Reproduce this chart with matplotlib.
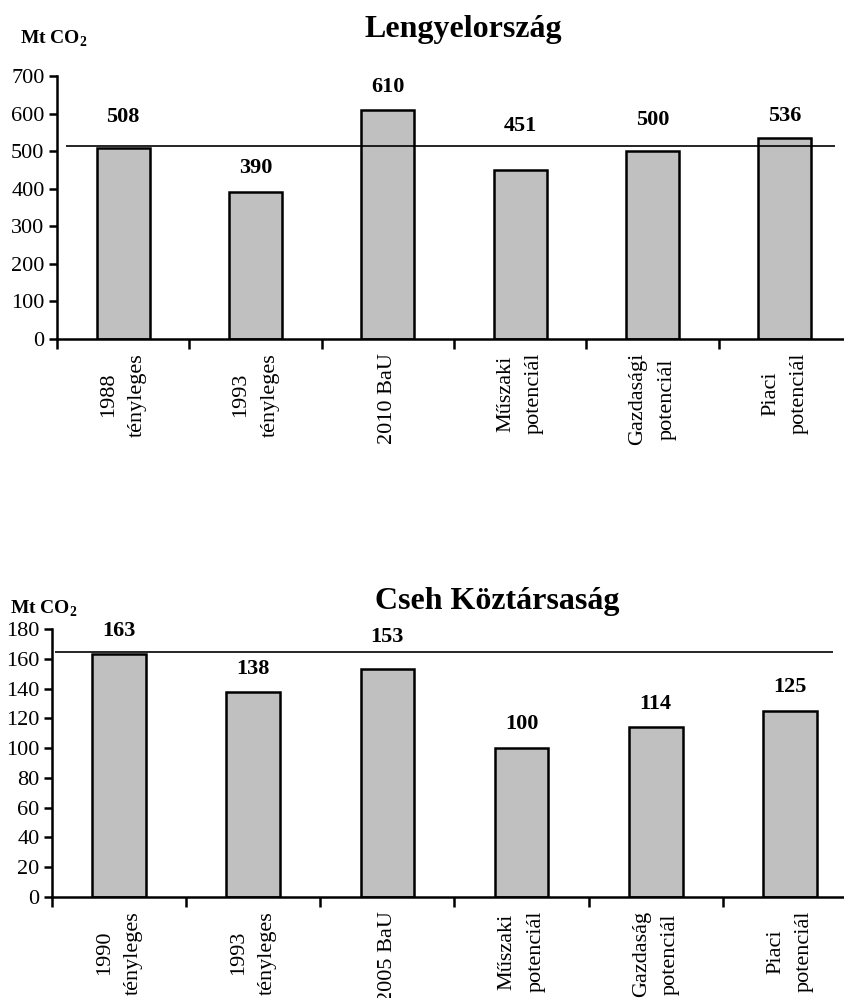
import matplotlib
matplotlib.use("Agg")
import matplotlib.pyplot as plt

plt.rcParams['font.family'] = ['Liberation Serif', 'DejaVu Serif']
plt.rcParams['mathtext.fontset'] = 'custom'
plt.rcParams['mathtext.rm'] = 'Liberation Serif'
plt.rcParams['mathtext.bf'] = 'Liberation Serif:bold'

# Lengyelország
pl_labels = ["1988\ntényleges", "1993\ntényleges", "2010 BaU",
             "Műszaki\npotenciál", "Gazdasági\npotenciál", "Piaci\npotenciál"]
pl_values = [508, 390, 610, 451, 500, 536]
pl_target = 514
pl_yticks = [0, 100, 200, 300, 400, 500, 600, 700]

# Cseh Köztársaság
cz_labels = ["1990\ntényleges", "1993\ntényleges", "2005 BaU",
             "Műszaki\npotenciál", "Gazdaság\npotenciál", "Piaci\npotenciál"]
cz_values = [163, 138, 153, 100, 114, 125]
cz_target = 164.5
cz_yticks = [0, 20, 40, 60, 80, 100, 120, 140, 160, 180]

# gap (px) between bar top and centre of the value label
pl_gaps = [31, 24, 23, 44, 31, 22]
cz_gaps = [23, 23, 32, 24, 23, 24]

W, H = 845, 998
fig = plt.figure(figsize=(W / 100, H / 100), dpi=100)


def draw_panel(rect, title, title_xy, unit_xy, labels, values, target,
               yticks, gaps, line_span):
    ax = fig.add_axes(rect)
    n = len(values)
    xs = [i + 0.5 for i in range(n)]
    ax.bar(xs, values, width=0.4, color="#c0c0c0", edgecolor="black",
           linewidth=1.8, zorder=2)
    ax.hlines(target, line_span[0], line_span[1], colors="black",
              linewidth=1.2, transform=ax.get_yaxis_transform(), zorder=3)
    for x, v, g in zip(xs, values, gaps):
        ax.annotate(str(v), (x, v), xytext=(0, g * 0.72),
                    textcoords="offset points", ha="center", va="center",
                    fontsize=16, fontweight="bold")

    ax.set_xlim(0, n)
    ax.set_ylim(yticks[0], yticks[-1])
    ax.set_yticks(yticks)
    ax.set_xticks(range(n))
    ax.set_xticklabels([])
    ax.tick_params(axis="y", direction="out", length=6, width=1.8,
                   labelsize=16, pad=3)
    ax.tick_params(axis="x", direction="out", length=7, width=1.8)
    for side in ("top", "right"):
        ax.spines[side].set_visible(False)
    for side in ("left", "bottom"):
        ax.spines[side].set_linewidth(1.8)

    # two-line category names, rotated, under each bar
    for x, lab in zip(xs, labels):
        ax.annotate(lab, (x, 0), xytext=(0, -10), textcoords="offset points",
                    rotation=90, ha="center", va="top", multialignment="center",
                    fontsize=16, linespacing=1.7, annotation_clip=False)

    fig.text(title_xy[0] / W, 1 - title_xy[1] / H, title, ha="center",
             va="center", fontsize=23, fontweight="bold")
    fig.text(unit_xy[0] / W, 1 - unit_xy[1] / H, r"Mt CO$_\mathbf{2}$",
             ha="left", va="center", fontsize=14, fontweight="bold")
    return ax


draw_panel([57 / W, 1 - 339 / H, 794 / W, 263 / H], "Lengyelország",
           (463, 29), (20, 39), pl_labels, pl_values, pl_target, pl_yticks,
           pl_gaps, (0.011, 0.98))
draw_panel([52 / W, 1 - 897 / H, 805 / W, 268 / H], "Cseh Köztársaság",
           (497, 601), (10, 609), cz_labels, cz_values, cz_target, cz_yticks,
           cz_gaps, (0.004, 0.97))

fig.savefig("out.png", dpi=100)
